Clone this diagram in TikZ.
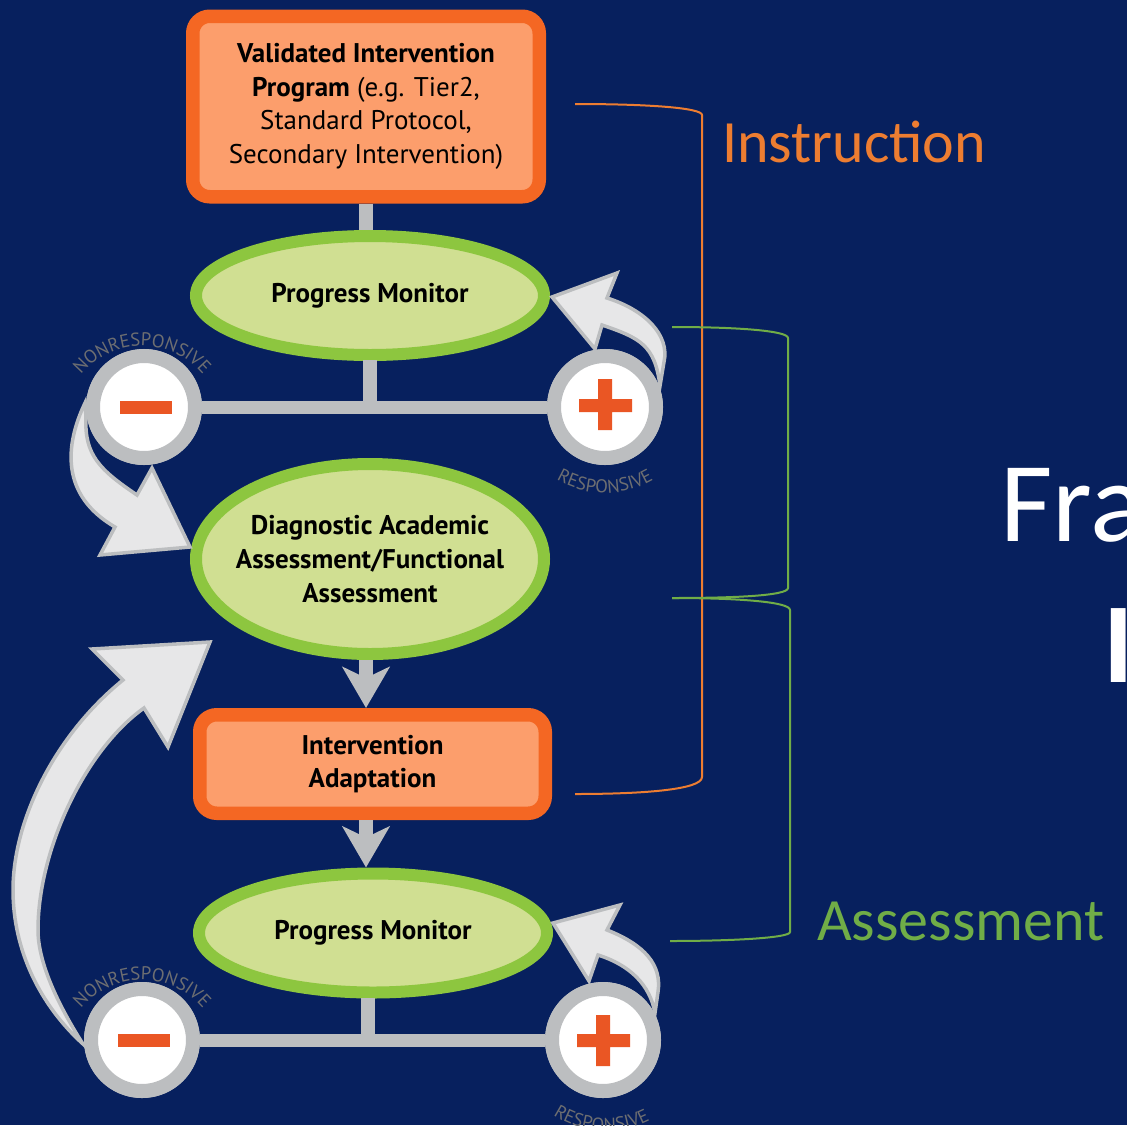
\documentclass[tikz,border=0pt]{standalone}
\usepackage{fontspec}
\setmainfont{PT Sans}
\newfontfamily\calibrifont{Carlito}
\usetikzlibrary{shapes.geometric,arrows.meta,decorations.text}
\definecolor{bgblue}{HTML}{07205E}
\definecolor{boxedge}{HTML}{F46723}
\definecolor{boxfill}{HTML}{FC9E6C}
\definecolor{ovaledge}{HTML}{8DC63F}
\definecolor{ovalfill}{HTML}{D0DF92}
\definecolor{signred}{HTML}{EA5624}
\definecolor{bargray}{HTML}{BCBEC0}
\definecolor{turnfill}{HTML}{E7E7E8}
\definecolor{curvegray}{HTML}{6D6E71}
\definecolor{instorange}{HTML}{ED7D31}
\definecolor{assessgreen}{HTML}{70AD47}
\begin{document}
\begin{tikzpicture}[x=1pt,y=-1pt,
 box/.style={draw=boxedge,fill=boxfill,line width=13.5pt,rounded corners=17pt,inner sep=0pt},
 oval/.style={ellipse,draw=ovaledge,fill=ovalfill,line width=12pt,inner sep=0pt,minimum width=348pt,outer sep=6pt},
 sign/.style={circle,draw=bargray,fill=white,line width=14pt,minimum size=102pt,inner sep=0pt},
 body/.style={align=center,text=black,font=\fontsize{27}{33.7}\selectfont,inner sep=0pt},
 bar/.style={draw=bargray,line width=14pt},
 down/.style={bar,-{Stealth[length=41pt,width=47pt,inset=11pt]}},
 turn/.style={fill=turnfill,draw=bargray,line width=3.5pt,line join=miter},
 curved/.style={decorate,decoration={text along path,text align=center,text color=curvegray,text={|\fontsize{18.5}{20}\selectfont|#1}}},
 bracket/.style={line width=2pt}]
\useasboundingbox (0,0) rectangle (1127,1125);
\clip (0,0) rectangle (1127,1125);
\fill[bgblue] (0,0) rectangle (1127,1125);
\node[box,minimum width=346.5pt,minimum height=180.5pt] (program) at (366,106.5) {};
\node[oval,minimum height=119pt] (monitora) at (370,295.5) {};
\node[oval,minimum height=190pt] (diagnostic) at (370,559) {};
\node[box,minimum width=345.5pt,minimum height=98.5pt] (adaptation) at (372.5,764) {};
\node[oval,minimum height=119pt] (monitorb) at (373,933) {};
\node[sign] (minusa) at (144,407) {};
\node[sign] (plusa) at (605,407) {};
\node[sign] (minusb) at (142,1040) {};
\node[sign] (plusb) at (603,1040) {};
\begin{scope}[on background layer/.style={}]
\draw[bar] (program.south -| 366,0) -- (monitora.north -| 366,0);
\draw[bar,shorten <=-1pt] (monitora.south) -- (monitora.south |- minusa.center);
\draw[bar,line width=13pt] (minusa) -- (plusa);
\draw[bar,shorten <=-1pt] (monitorb.south -| 368,0) -- (minusb.center -| 368,0);
\draw[bar,line width=13pt] (minusb) -- (plusb);
\draw[down] (diagnostic.south -| 366,0) -- (adaptation.north -| 366,0);
\draw[down] (adaptation.south -| 366,0) -- (monitorb.north -| 366,0);
\end{scope}
\node[sign] at (minusa) {};
\node[sign] at (plusa) {};
\node[sign] at (minusb) {};
\node[sign] at (plusb) {};
\node[body] (programtext) at (program) {\textbf{Validated Intervention}\\\textbf{Program} (e.g. Tier2,\\Standard Protocol,\\Secondary Intervention)};
\node[body] (monitoratext) at (monitora) {\textbf{Progress Monitor}};
\node[body] (diagnostictext) at (diagnostic) {\textbf{Diagnostic Academic}\\\textbf{Assessment/Functional}\\\textbf{Assessment}};
\node[body] (adaptationtext) at (adaptation) {\textbf{Intervention}\\\textbf{Adaptation}};
\node[body] (monitorbtext) at (monitorb) {\textbf{Progress Monitor}};
\fill[signred] (120,401) rectangle (172,414);
\fill[signred] (118,1034) rectangle (170,1047);
\fill[signred] (579,399) rectangle (632,412) (598,379) rectangle (612,430);
\fill[signred] (577,1034) rectangle (630,1047) (596,1015) rectangle (610,1066);
\draw[turn] (85,403) .. controls (65,445) and (60,495) .. (115,527) -- (100,555) -- (190,547) -- (152,468) -- (137,495) .. controls (100,470) and (84,455) .. (86,417) -- cycle;
\draw[turn] (552,297) -- (617,273) -- (607,298) .. controls (645,310) and (670,335) .. (664,362) -- (660,386) .. controls (655,345) and (640,338) .. (602,325) -- (595,349) -- cycle;
\draw[turn] (553,923) -- (620,905) -- (607,930) .. controls (645,945) and (662,965) .. (658,992) -- (655,1013) .. controls (650,985) and (630,965) .. (598,955) -- (589,981) -- cycle;
\draw[turn] (210,642) -- (92,649) -- (123,680) .. controls (55,735) and (13,820) .. (13,890) .. controls (13,950) and (40,1005) .. (83,1044) .. controls (55,1000) and (38,960) .. (38,930) .. controls (38,850) and (85,750) .. (144,708) -- (168,747) -- cycle;
\path[curved=NONRESPONSIVE] (142,425) ++(147:79pt) arc[start angle=147,end angle=33,radius=79pt];
\path[curved=RESPONSIVE] (605,397) ++(226:96pt) arc[start angle=226,end angle=314,radius=96pt];
\path[curved=NONRESPONSIVE] (142,1059) ++(147:79pt) arc[start angle=147,end angle=33,radius=79pt];
\path[curved=RESPONSIVE] (606,1035) ++(222:96pt) arc[start angle=222,end angle=312,radius=96pt];
\coordinate (insta) at (575,104);
\coordinate (instb) at (575,794);
\coordinate (assessa) at (672,327);
\coordinate (assessb) at (672,598);
\coordinate (assessc) at (670,941);
\draw[bracket,instorange] (insta) .. controls (650,104) and (702,108) .. (702,115) -- (702,777) .. controls (702,790) and (640,794) .. (instb);
\draw[bracket,assessgreen] (assessa) .. controls (740,327) and (788,331) .. (788,338) -- (788,588) .. controls (788,596) and (730,598) .. (assessb);
\draw[bracket,assessgreen] (assessb) .. controls (740,598) and (790,602) .. (790,610) -- (790,932) .. controls (790,938) and (730,941) .. (assessc);
\node[anchor=base west,inner sep=0pt,text=instorange,font=\calibrifont\fontsize{60}{60}\selectfont] (instruction) at (722,162) {Instruction};
\node[anchor=base west,inner sep=0pt,text=assessgreen,font=\calibrifont\fontsize{60}{60}\selectfont] (assessment) at (817,940) {Assessment};
\node[anchor=base west,inner sep=0pt,text=white,font=\calibrifont\fontsize{114}{114}\selectfont] (fra) at (1000,541) {Fra};
\node[anchor=base west,inner sep=0pt,text=white,font=\calibrifont\bfseries\fontsize{114}{114}\selectfont] (ititle) at (1103,682) {I};
\end{tikzpicture}
\end{document}
